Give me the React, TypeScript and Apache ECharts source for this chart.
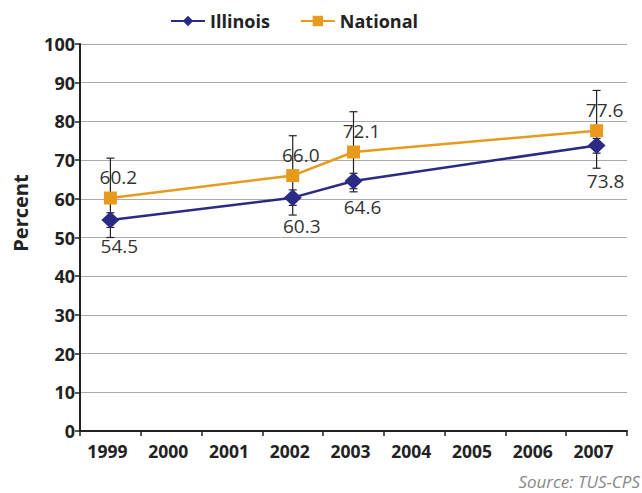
import React, { useEffect, useRef } from "react";
import * as echarts from "echarts";

const years = ["1999", "2000", "2001", "2002", "2003", "2004", "2005", "2006", "2007"];
const illinois = [54.5, null, null, 60.3, 64.6, null, null, null, 73.8];
const national = [60.2, null, null, 66.0, 72.1, null, null, null, 77.6];
const illinoisLow = [52.6, null, null, 58.3, 62.6, null, null, null, 71.8];
const illinoisHigh = [56.4, null, null, 62.3, 66.6, null, null, null, 75.6];
const nationalLow = [50.0, null, null, 55.8, 61.8, null, null, null, 67.9];
const nationalHigh = [70.5, null, null, 76.3, 82.5, null, null, null, 88.0];
const yTicks = [0, 10, 20, 30, 40, 50, 60, 70, 80, 90, 100];
// extra downward shift of Illinois value labels (px)
const illinoisLabelShift = [0, 0, 0, 2, 0, 0, 0, 0, 10];

const NAVY = "#2b2a85";
const ORANGE = "#e89a1c";
const FONT = "'Open Sans', sans-serif";

function errData(low: (number | null)[], high: (number | null)[]) {
  const out: any[] = [];
  low.forEach((l, i) => {
    const h = high[i];
    if (l != null && h != null) out.push([i, l, h]);
  });
  return out;
}

function renderErr(params: any, api: any) {
  const x = api.value(0);
  const lo = api.coord([x, api.value(1)]);
  const hi = api.coord([x, api.value(2)]);
  const cap = 4;
  const style = { stroke: "#222", lineWidth: 1.2 };
  return {
    type: "group",
    children: [
      { type: "line", shape: { x1: lo[0], y1: lo[1], x2: hi[0], y2: hi[1] }, style },
      { type: "line", shape: { x1: lo[0] - cap, y1: lo[1], x2: lo[0] + cap, y2: lo[1] }, style },
      { type: "line", shape: { x1: hi[0] - cap, y1: hi[1], x2: hi[0] + cap, y2: hi[1] }, style },
    ],
  };
}

export default function App() {
  const ref = useRef<HTMLDivElement>(null);
  useEffect(() => {
    if (!ref.current) return;
    const chart = echarts.init(ref.current, undefined, { renderer: "svg" });
    const illinoisData = illinois.map((v, i) =>
      v == null ? null : { value: v, label: { offset: [9, illinoisLabelShift[i]] } }
    );
    chart.setOption({
      animation: false,
      textStyle: { fontFamily: FONT },
      legend: {
        top: 7,
        left: 165,
        itemGap: 30,
        itemWidth: 34,
        itemHeight: 13,
        data: ["Illinois", "National"],
        textStyle: { fontFamily: FONT, fontSize: 18, fontWeight: "bold", color: "#222" },
      },
      grid: { left: 80, right: 15, top: 44, bottom: 62 },
      xAxis: {
        type: "category",
        data: years,
        boundaryGap: true,
        axisLine: { lineStyle: { color: "#222", width: 2 } },
        axisTick: { show: true, length: 5, lineStyle: { color: "#222", width: 1.5 } },
        axisLabel: {
          fontFamily: FONT,
          fontSize: 17.5,
          fontWeight: "bold",
          color: "#222",
          margin: 11,
          interval: 0,
          padding: [0, 6, 0, 0],
        },
      },
      yAxis: {
        type: "value",
        min: 0,
        max: 100,
        interval: 10,
        axisLine: { show: true, lineStyle: { color: "#222", width: 2 } },
        axisTick: { show: true, length: 5, lineStyle: { color: "#222", width: 1.5 } },
        axisLabel: {
          fontFamily: FONT,
          fontSize: 18,
          fontWeight: "bold",
          color: "#222",
          margin: 5,
          formatter: (v: number) => (yTicks.includes(v) ? String(v) : ""),
        },
        splitLine: { lineStyle: { color: "#aaa", width: 1.2 } },
      },
      series: [
        {
          type: "custom",
          name: "natErr",
          renderItem: renderErr,
          data: errData(nationalLow, nationalHigh),
          z: 1,
          silent: true,
        },
        {
          type: "custom",
          name: "ilErr",
          renderItem: renderErr,
          data: errData(illinoisLow, illinoisHigh),
          z: 1,
          silent: true,
        },
        {
          name: "Illinois",
          type: "line",
          data: illinoisData,
          connectNulls: true,
          symbol: "diamond",
          symbolSize: [18, 17],
          color: NAVY,
          lineStyle: { color: NAVY, width: 2.5 },
          itemStyle: { color: NAVY },
          z: 3,
          label: {
            show: true,
            position: "bottom",
            distance: 8,
            offset: [9, 0],
            fontFamily: FONT,
            fontSize: 19,
            color: "#333",
            formatter: (p: any) => Number(p.value).toFixed(1),
          },
        },
        {
          name: "National",
          type: "line",
          data: national,
          connectNulls: true,
          symbol: "rect",
          symbolSize: 13,
          color: ORANGE,
          lineStyle: { color: ORANGE, width: 2.5 },
          itemStyle: { color: ORANGE },
          z: 3,
          label: {
            show: true,
            position: "top",
            distance: 5,
            offset: [8, 0],
            fontFamily: FONT,
            fontSize: 19,
            color: "#333",
            formatter: (p: any) => Number(p.value).toFixed(1),
          },
        },
      ],
      graphic: [
        {
          type: "text",
          x: 20,
          y: 213,
          rotation: Math.PI / 2,
          style: {
            text: "Percent",
            fontFamily: FONT,
            fontSize: 20,
            fontWeight: "bold",
            fill: "#222",
            align: "center",
            verticalAlign: "middle",
          },
        },
        {
          type: "text",
          right: 2,
          bottom: 3,
          style: {
            text: "Source: TUS-CPS",
            fontFamily: FONT,
            fontSize: 17,
            fontStyle: "italic",
            fill: "#888",
          },
        },
      ],
    });
    return () => chart.dispose();
  }, []);
  return <div ref={ref} style={{ width: 642, height: 493, position: "absolute", left: 0, top: 0 }} />;
}
